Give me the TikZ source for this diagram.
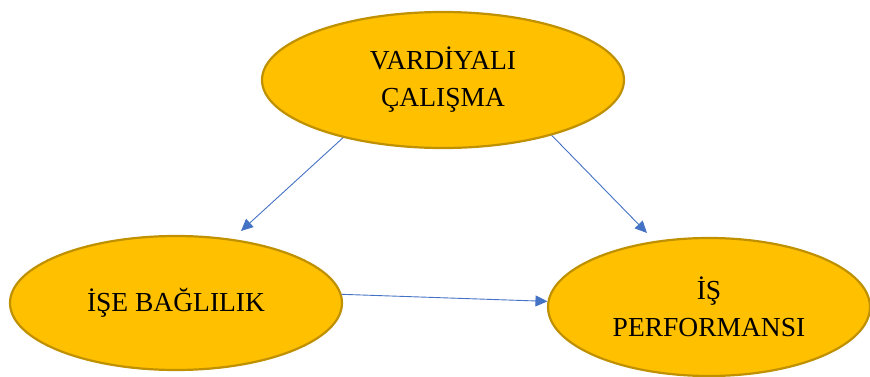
\documentclass[tikz,border=0pt]{standalone}
\usepackage{fontspec}
\setmainfont{Liberation Serif}
\usepackage{xcolor}
\usetikzlibrary{shapes.geometric,arrows.meta}
\definecolor{gold}{HTML}{FFC000}
\definecolor{darkgold}{HTML}{BF9000}
\definecolor{arrowblue}{HTML}{4472C4}

\begin{document}
\begin{tikzpicture}[x=1pt, y=1pt,
    oval/.style={ellipse, fill=gold, draw=darkgold, line width=2.2pt, inner sep=0pt,
                 align=center, font=\fontsize{27.5}{37}\selectfont},
    link/.style={draw=arrowblue, line width=0.9pt, -{Triangle[length=12pt, width=11pt]}}]
                \useasboundingbox (0,0) rectangle (870,376);
                \node[oval, minimum width=362, minimum height=136] (vardiya) at (443,296) {VARDİYALI\\ÇALIŞMA};
                \node[oval, minimum width=332, minimum height=134] (bagli) at (176,73) {İŞE BAĞLILIK};
                \node[oval, minimum width=322, minimum height=138] (perf) at (709,69) {İŞ\\PERFORMANSI};
                \coordinate (bagliend) at (241,145);
                \coordinate (perfend) at (647,143);
                \draw[link] (vardiya.210) -- (bagliend);
                \draw[link] (vardiya.333) -- (perfend);
                \draw[link] (bagli.3) -- (perf.178);
            \end{tikzpicture}
\end{document}
